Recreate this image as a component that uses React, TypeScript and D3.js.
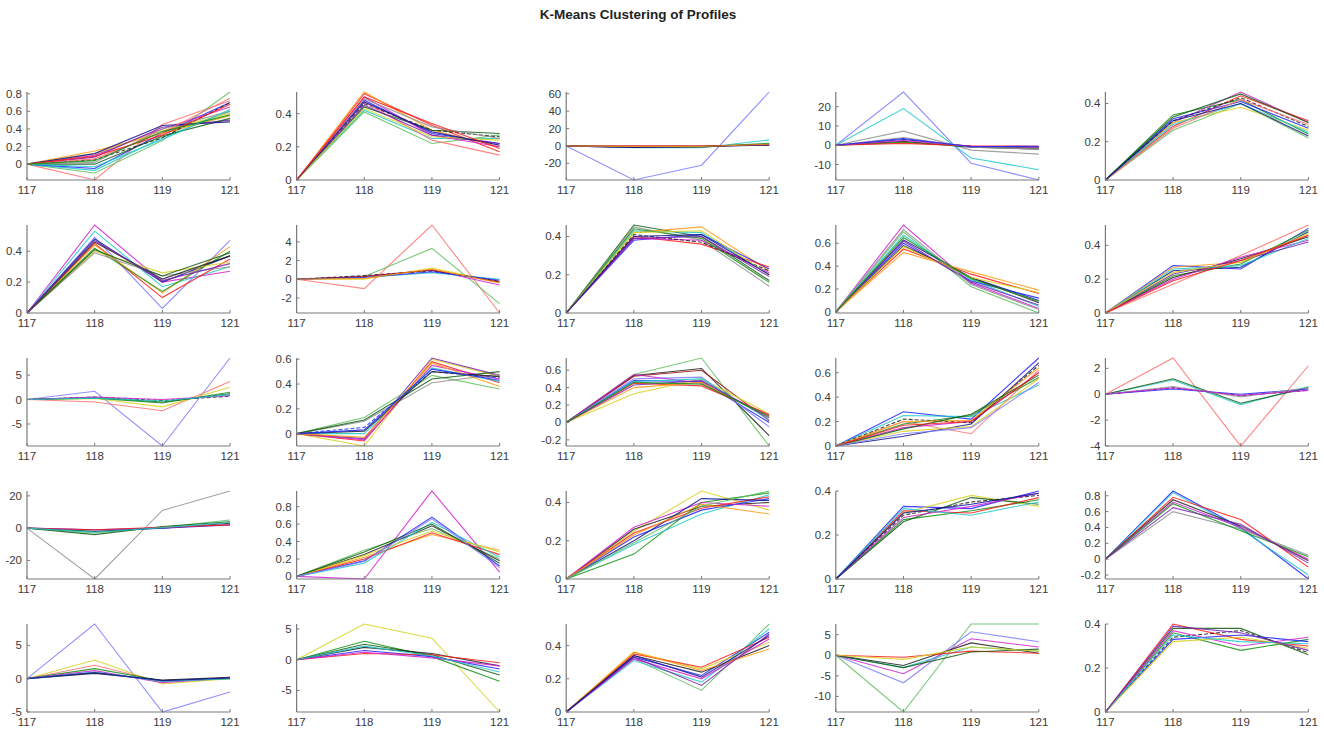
import React from "react";
import * as d3 from "d3";

type Profile = [string, number, number, number];

const X_LABELS = ["117", "118", "119", "121"];
const TITLE = "K-Means Clustering of Profiles";

// each profile: [series key, value@118, value@119, value@121]; value@117 is 0
const c01: Profile[] = [
  ["pk", -0.18, 0.45, 0.72], ["lg", -0.1, 0.27, 0.82], ["c", -0.07, 0.3, 0.6], ["b", -0.05, 0.35, 0.7],
  ["m", 0.1, 0.4, 0.65], ["o", 0.15, 0.35, 0.55], ["kd", 0.05, 0.3, 0.7], ["y", 0.12, 0.38, 0.58],
  ["pu", 0.08, 0.42, 0.5], ["dg", 0.0, 0.32, 0.52], ["gr", 0.02, 0.4, 0.6], ["db", 0.12, 0.44, 0.48],
  ["pk", 0.06, 0.36, 0.75], ["c", -0.03, 0.28, 0.62], ["r", 0.09, 0.33, 0.68], ["g", 0.04, 0.37, 0.56],
];
const c02: Profile[] = [
  ["r", 0.52, 0.33, 0.17], ["o", 0.53, 0.3, 0.2], ["b", 0.48, 0.28, 0.22], ["lg", 0.41, 0.22, 0.27],
  ["c", 0.42, 0.25, 0.25], ["kd", 0.46, 0.3, 0.26], ["dg", 0.44, 0.3, 0.28], ["m", 0.5, 0.27, 0.2],
  ["pk", 0.47, 0.24, 0.15], ["pu", 0.45, 0.27, 0.22], ["y", 0.43, 0.26, 0.24], ["gr", 0.49, 0.32, 0.25],
  ["db", 0.47, 0.29, 0.21], ["r", 0.5, 0.34, 0.19],
];
const c03: Profile[] = [
  ["lb", -39, -22, 62], ["c", -2, -2, 7], ["r", 0, 0, 1], ["pu", -1.5, -1, 2], ["g", -1, -1, 3],
  ["dr", 0, 0, 1.5], ["db", -1.5, -0.5, 1], ["o", -0.5, -0.5, 2],
];
const c04: Profile[] = [
  ["lb", 27.6, -9.3, -18], ["c", 19, -6.6, -12.7], ["gr", 7.3, -2.5, -4.6], ["db", 3, -0.5, -1],
  ["k", 2, -1, -2], ["g", 1.5, -0.5, -1.5], ["r", 1, -0.3, -0.5], ["m", 2.5, -0.5, -1],
  ["gr", 4, -1, -2], ["b", 3.5, -0.8, -0.5],
];
const c05: Profile[] = [
  ["g", 0.34, 0.42, 0.24], ["lg", 0.26, 0.4, 0.22], ["m", 0.3, 0.46, 0.3], ["r", 0.28, 0.44, 0.31],
  ["b", 0.32, 0.41, 0.27], ["y", 0.3, 0.38, 0.26], ["kd", 0.31, 0.43, 0.28], ["c", 0.29, 0.4, 0.25],
  ["dg", 0.33, 0.45, 0.3], ["pk", 0.27, 0.42, 0.29], ["db", 0.31, 0.4, 0.23],
];
const c06: Profile[] = [
  ["m", 0.57, 0.2, 0.27], ["c", 0.53, 0.17, 0.3], ["lb", 0.49, 0.03, 0.47], ["db", 0.48, 0.2, 0.37],
  ["r", 0.45, 0.1, 0.35], ["o", 0.44, 0.13, 0.43], ["g", 0.42, 0.14, 0.4], ["y", 0.4, 0.26, 0.33],
  ["gr", 0.39, 0.24, 0.3], ["k", 0.46, 0.22, 0.37], ["dg", 0.41, 0.24, 0.39], ["pu", 0.47, 0.21, 0.32],
];
const c07: Profile[] = [
  ["pk", -1, 5.8, -3.6], ["lg", 0.3, 3.3, -2.6], ["y", 0, 1.2, -0.3], ["m", 0.3, 1, -0.6],
  ["kd", 0.4, 0.9, -0.2], ["c", 0.2, 0.7, 0], ["dr", 0.3, 1, -0.3], ["b", 0.2, 0.8, -0.1], ["o", 0.1, 1.1, -0.4],
];
const c08: Profile[] = [
  ["dg", 0.46, 0.4, 0.17], ["gr", 0.45, 0.38, 0.14], ["o", 0.42, 0.45, 0.22], ["c", 0.43, 0.42, 0.2],
  ["b", 0.38, 0.41, 0.23], ["r", 0.4, 0.36, 0.24], ["m", 0.39, 0.38, 0.21], ["kd", 0.41, 0.37, 0.22],
  ["g", 0.44, 0.39, 0.16], ["pu", 0.39, 0.4, 0.19], ["y", 0.42, 0.43, 0.2], ["db", 0.4, 0.41, 0.2],
];
const c09: Profile[] = [
  ["m", 0.76, 0.25, 0.03], ["lg", 0.7, 0.22, -0.01], ["c", 0.67, 0.28, 0.05], ["db", 0.63, 0.3, 0.1],
  ["b", 0.6, 0.27, 0.12], ["k", 0.58, 0.3, 0.08], ["r", 0.55, 0.33, 0.16], ["o", 0.52, 0.35, 0.19],
  ["y", 0.57, 0.3, 0.17], ["pu", 0.62, 0.26, 0.06], ["gr", 0.72, 0.24, 0.02], ["g", 0.65, 0.29, 0.09],
];
const c10: Profile[] = [
  ["pk", 0.17, 0.34, 0.52], ["b", 0.28, 0.26, 0.5], ["o", 0.27, 0.3, 0.46], ["db", 0.25, 0.27, 0.48],
  ["g", 0.22, 0.29, 0.49], ["k", 0.21, 0.32, 0.45], ["m", 0.2, 0.33, 0.43], ["c", 0.26, 0.28, 0.44],
  ["pu", 0.23, 0.31, 0.42], ["y", 0.24, 0.3, 0.47], ["r", 0.19, 0.31, 0.46],
];
const c11: Profile[] = [
  ["lb", 1.7, -9.5, 8.5], ["pk", -0.5, -2.3, 3.7], ["y", 0.2, -1.5, 2.5], ["g", 0.3, -0.7, 1.5],
  ["kd", 0.5, -0.2, 0.7], ["dg", 0.4, -0.5, 1.2], ["m", 0.5, 0, 0.8], ["c", 0.3, -0.3, 1],
];
const c12: Profile[] = [
  ["y", -0.1, 0.6, 0.46], ["r", -0.06, 0.58, 0.41], ["m", -0.05, 0.55, 0.44], ["pu", -0.04, 0.61, 0.47],
  ["bd", 0.05, 0.5, 0.45], ["c", 0.0, 0.53, 0.42], ["lg", 0.13, 0.47, 0.36], ["gr", 0.1, 0.41, 0.48],
  ["dg", 0.11, 0.44, 0.5], ["k", 0.02, 0.5, 0.46], ["o", -0.03, 0.57, 0.38], ["b", 0.03, 0.52, 0.43],
];
const c13: Profile[] = [
  ["lg", 0.55, 0.74, -0.27], ["k", 0.54, 0.62, -0.15], ["dr", 0.53, 0.6, 0.02], ["y", 0.33, 0.5, 0.1],
  ["b", 0.48, 0.47, 0.0], ["lb", 0.5, 0.52, -0.05], ["m", 0.55, 0.45, 0.08], ["r", 0.45, 0.42, 0.09],
  ["o", 0.4, 0.46, 0.06], ["c", 0.47, 0.5, 0.03], ["pu", 0.43, 0.48, 0.05], ["g", 0.46, 0.44, 0.07],
];
const c14: Profile[] = [
  ["b", 0.28, 0.22, 0.72], ["c", 0.25, 0.24, 0.5], ["pk", 0.2, 0.1, 0.62], ["g", 0.18, 0.25, 0.56],
  ["m", 0.15, 0.2, 0.6], ["db", 0.08, 0.18, 0.68], ["y", 0.12, 0.16, 0.55], ["kd", 0.22, 0.19, 0.66],
  ["o", 0.2, 0.21, 0.64], ["dg", 0.14, 0.26, 0.58], ["r", 0.17, 0.2, 0.6], ["lb", 0.1, 0.15, 0.52],
];
const c15: Profile[] = [
  ["pk", 2.8, -4, 2.2], ["c", 1.1, -0.8, 0.6], ["dg", 1.2, -0.7, 0.5], ["kd", 0.5, -0.1, 0.3],
  ["b", 0.4, 0, 0.4], ["gr", 0.6, -0.2, 0.5], ["m", 0.5, -0.1, 0.3],
];
const c16: Profile[] = [
  ["gr", -31.5, 11, 23], ["lg", -3, 0.5, 5], ["k", -2, 0, 3], ["dg", -4, 1, 4], ["b", -1, 0, 2],
  ["r", -1, 0.5, 2], ["c", -2.5, 0.3, 3.5],
];
const c17: Profile[] = [
  ["m", -0.03, 0.98, 0.05], ["b", 0.18, 0.68, 0.12], ["lg", 0.3, 0.55, 0.2], ["k", 0.25, 0.58, 0.18],
  ["o", 0.22, 0.48, 0.3], ["r", 0.2, 0.5, 0.25], ["c", 0.15, 0.62, 0.22], ["y", 0.24, 0.52, 0.28],
  ["dg", 0.28, 0.6, 0.15], ["lb", 0.17, 0.66, 0.1],
];
const c18: Profile[] = [
  ["g", 0.13, 0.4, 0.45], ["y", 0.25, 0.46, 0.36], ["k", 0.26, 0.38, 0.4], ["c", 0.18, 0.34, 0.44],
  ["b", 0.22, 0.36, 0.42], ["m", 0.27, 0.4, 0.38], ["r", 0.24, 0.37, 0.43], ["db", 0.2, 0.42, 0.41],
  ["o", 0.23, 0.39, 0.34], ["lg", 0.19, 0.38, 0.46],
];
const c19: Profile[] = [
  ["b", 0.33, 0.32, 0.4], ["y", 0.3, 0.38, 0.33], ["kd", 0.29, 0.35, 0.38], ["g", 0.27, 0.31, 0.36],
  ["r", 0.31, 0.3, 0.37], ["dg", 0.26, 0.37, 0.34], ["m", 0.28, 0.33, 0.39], ["c", 0.32, 0.29, 0.35],
  ["db", 0.3, 0.34, 0.39],
];
const c20: Profile[] = [
  ["b", 0.86, 0.4, -0.25], ["c", 0.84, 0.38, -0.2], ["r", 0.78, 0.5, -0.1], ["k", 0.75, 0.42, -0.02],
  ["m", 0.72, 0.4, 0.0], ["gr", 0.6, 0.38, 0.05], ["g", 0.7, 0.36, 0.03], ["pu", 0.65, 0.44, -0.05],
];
const c21: Profile[] = [
  ["lb", 8.2, -5, -2], ["y", 2.8, -0.8, 0], ["pk", 2, -0.5, 0.2], ["g", 1.5, -0.3, 0],
  ["k", 0.8, -0.2, 0.2], ["m", 1.2, -0.6, 0.1], ["c", 1, -0.4, 0], ["db", 0.9, -0.3, 0.1],
];
const c22: Profile[] = [
  ["y", 5.8, 3.5, -8.5], ["g", 3, 0.5, -3.5], ["dg", 2.5, 0.8, -2.5], ["k", 2, 1, -1],
  ["b", 1.5, 0.5, -1.5], ["r", 1, 0.8, -0.5], ["m", 1.2, 0.3, -1], ["c", 2.2, 0.6, -2],
];
const c23: Profile[] = [
  ["lg", 0.32, 0.13, 0.53], ["b", 0.33, 0.22, 0.48], ["c", 0.31, 0.18, 0.5], ["y", 0.36, 0.26, 0.42],
  ["k", 0.34, 0.24, 0.4], ["r", 0.35, 0.27, 0.45], ["m", 0.32, 0.2, 0.44], ["o", 0.36, 0.25, 0.38],
  ["pu", 0.33, 0.16, 0.47], ["db", 0.34, 0.21, 0.46],
];
const c24: Profile[] = [
  ["lg", -13.8, 7.6, 7.6], ["lb", -6.7, 5.7, 3.3], ["m", -4.5, 4, 2], ["c", -3, 2, 1],
  ["k", -2.5, 3, 0.5], ["r", -0.5, 1, 0.5], ["dg", -3, 0.8, 1.5], ["y", -1, 2, 1],
];
const c25: Profile[] = [
  ["r", 0.4, 0.33, 0.3], ["g", 0.36, 0.28, 0.33], ["kd", 0.34, 0.37, 0.27], ["dg", 0.38, 0.38, 0.26],
  ["b", 0.33, 0.35, 0.32], ["m", 0.37, 0.3, 0.34], ["y", 0.32, 0.34, 0.29], ["c", 0.35, 0.32, 0.31],
  ["pu", 0.39, 0.36, 0.28],
];

// y tick labels of each panel
const t01 = [0, 0.2, 0.4, 0.6, 0.8];
const t02 = [0, 0.2, 0.4];
const t03 = [-20, 0, 20, 40, 60];
const t04 = [-10, 0, 10, 20];
const t05 = [0, 0.2, 0.4];
const t06 = [0, 0.2, 0.4];
const t07 = [-2, 0, 2, 4];
const t08 = [0, 0.2, 0.4];
const t09 = [0, 0.2, 0.4, 0.6];
const t10 = [0, 0.2, 0.4];
const t11 = [-5, 0, 5];
const t12 = [0, 0.2, 0.4, 0.6];
const t13 = [-0.2, 0, 0.2, 0.4, 0.6];
const t14 = [0, 0.2, 0.4, 0.6];
const t15 = [-4, -2, 0, 2];
const t16 = [-20, 0, 20];
const t17 = [0, 0.2, 0.4, 0.6, 0.8];
const t18 = [0, 0.2, 0.4];
const t19 = [0, 0.2, 0.4];
const t20 = [-0.2, 0, 0.2, 0.4, 0.6, 0.8];
const t21 = [-5, 0, 5];
const t22 = [-5, 0, 5];
const t23 = [0, 0.2, 0.4];
const t24 = [-10, -5, 0, 5];
const t25 = [0, 0.2, 0.4];

const PANELS: Profile[][] = [c01, c02, c03, c04, c05, c06, c07, c08, c09, c10, c11, c12, c13,
  c14, c15, c16, c17, c18, c19, c20, c21, c22, c23, c24, c25];
const TICKS: number[][] = [t01, t02, t03, t04, t05, t06, t07, t08, t09, t10, t11, t12, t13,
  t14, t15, t16, t17, t18, t19, t20, t21, t22, t23, t24, t25];

const COLORS: Record<string, string> = {
  b: "#2020ff", lb: "#7c7cff", db: "#101090", bd: "#2040ff",
  g: "#109010", lg: "#60c060", dg: "#105a10",
  r: "#ff1a1a", pk: "#ff7070", dr: "#a01010",
  c: "#20c8c8", m: "#d020d0", y: "#d8d020", k: "#202020", kd: "#202020",
  o: "#ff9a10", gr: "#909090", pu: "#7a20b0",
};
const DASHED = new Set(["kd", "bd"]);

const LEFT0 = 27, COL_STEP = 269.6, TOP0 = 92, ROW_STEP = 133, W = 203, H = 88;
const AXIS = "#7a7a7a", TEXT = "#3a3a3a", FONT = "Liberation Sans, Arial, sans-serif";

function Panel({ data, ticks, idx }: { data: Profile[]; ticks: number[]; idx: number }) {
  const col = idx % 5, row = Math.floor(idx / 5);
  const x0 = LEFT0 + col * COL_STEP, y0 = TOP0 + row * ROW_STEP;
  const x = d3.scalePoint<string>().domain(X_LABELS).range([0, W]);
  const vals = data.flatMap((p) => [0, p[1], p[2], p[3]]);
  const [mn, mx] = d3.extent(vals) as [number, number];
  const y = d3.scaleLinear().domain([mn, mx]).range([H, 0]);
  const line = d3.line<number>().x((_, i) => x(X_LABELS[i]) as number).y((v) => y(v));
  return (
    <g transform={`translate(${x0},${y0})`}>
      {data.map((p, i) => (
        <path key={i} d={line([0, p[1], p[2], p[3]]) as string} fill="none"
          stroke={COLORS[p[0]]} strokeWidth={1.1} strokeOpacity={0.85}
          strokeDasharray={DASHED.has(p[0]) ? "4,2" : undefined} />
      ))}
      <line x1={0} x2={W} y1={H} y2={H} stroke={AXIS} strokeWidth={1.2} />
      <line x1={0} x2={0} y1={0} y2={H} stroke={AXIS} strokeWidth={1.2} />
      {X_LABELS.map((l) => (
        <g key={l}>
          <line x1={x(l)} x2={x(l)} y1={H} y2={H - 3} stroke={AXIS} />
          <text x={x(l)} y={H + 13.5} textAnchor="middle" fontSize={11.5} fill={TEXT} fontFamily={FONT}>{l}</text>
        </g>
      ))}
      {ticks.map((t) => (
        <g key={t}>
          <line x1={0} x2={3} y1={y(t)} y2={y(t)} stroke={AXIS} />
          <text x={-5} y={y(t) + 4} textAnchor="end" fontSize={11.5} fill={TEXT} fontFamily={FONT}>{String(t)}</text>
        </g>
      ))}
    </g>
  );
}

export default function App() {
  return (
    <svg width={1324} height={732} style={{ position: "absolute", left: 0, top: 0, background: "#fff" }}>
      <rect width={1324} height={732} fill="#fff" />
      <text x={638} y={19} textAnchor="middle" fontSize={13.5} fontWeight="bold" fill="#222" fontFamily={FONT}>{TITLE}</text>
      {PANELS.map((d, i) => <Panel key={i} data={d} ticks={TICKS[i]} idx={i} />)}
    </svg>
  );
}
